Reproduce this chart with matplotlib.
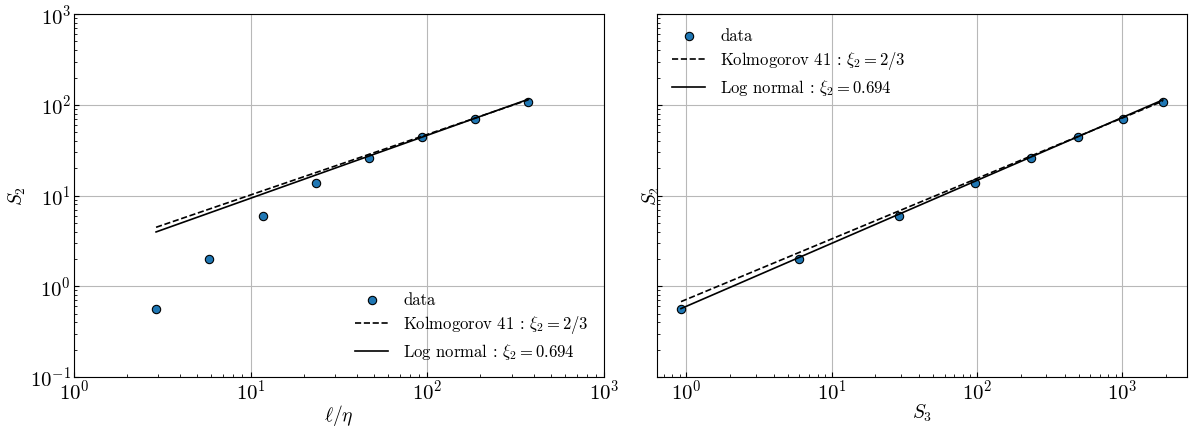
import matplotlib
matplotlib.use("Agg")
import matplotlib.pyplot as plt
import numpy as np

plt.rcParams['font.family'] = 'serif'
plt.rcParams['font.serif'] = ['cmr10']
plt.rcParams['mathtext.fontset'] = 'cm'
plt.rcParams['axes.formatter.use_mathtext'] = True
plt.rcParams['xtick.direction'] = 'in'
plt.rcParams['ytick.direction'] = 'in'

# structure functions
l_eta = [2.92, 5.84, 11.7, 23.4, 46.7, 93.4, 187, 374]
S2 = [0.568, 2.02, 5.97, 13.9, 26.0, 43.9, 70.5, 108.7]
S3 = [0.92, 6.01, 29.0, 96.4, 236, 497, 1002, 1898]

xi_k41 = 2 / 3
xi_ln = 0.694
# prefactors of the power law lines
c_k41_left = 2.19
c_ln_left = 1.89
c_k41_right = 0.717
c_ln_right = 0.602

x1 = np.array(l_eta)
x2 = np.array(S3)

fig, (ax1, ax2) = plt.subplots(1, 2, figsize=(11.91, 4.28), dpi=100, sharey=True)
fig.subplots_adjust(left=0.062, right=0.9966, bottom=0.119, top=0.967, wspace=0.1)

leg_kw = dict(frameon=False, fontsize=12, labelspacing=0.35, handlelength=2.0,
              handletextpad=0.9, borderaxespad=0.5)

ax1.loglog(l_eta, S2, 'o', color='#1f77b4', mec='k', mew=0.8, ms=6, label='data')
ax1.loglog(x1, c_k41_left * x1**xi_k41, 'k--', lw=1.2, label=r'Kolmogorov 41 : $\xi_2 = 2/3$')
ax1.loglog(x1, c_ln_left * x1**xi_ln, 'k-', lw=1.2, label=r'Log normal : $\xi_2 = 0.694$')
ax1.set_xlim(1, 1000)
ax1.set_ylim(0.1, 1000)
ax1.set_xlabel(r'$\ell/\eta$', fontsize=14, labelpad=-1)
ax1.set_ylabel(r'$S_2$', fontsize=14, labelpad=1)
ax1.grid(True, which='major', color='#b8b8b8', lw=0.8)
ax1.legend(loc='lower right', **leg_kw)

ax2.loglog(S3, S2, 'o', color='#1f77b4', mec='k', mew=0.8, ms=6, label='data')
ax2.loglog(x2, c_k41_right * x2**xi_k41, 'k--', lw=1.2, label=r'Kolmogorov 41 : $\xi_2 = 2/3$')
ax2.loglog(x2, c_ln_right * x2**xi_ln, 'k-', lw=1.2, label=r'Log normal : $\xi_2 = 0.694$')
ax2.set_xlabel(r'$S_3$', fontsize=14, labelpad=-1)
ax2.set_ylabel(r'$S_2$', fontsize=14, labelpad=-4)
ax2.grid(True, which='major', color='#b8b8b8', lw=0.8)
ax2.legend(loc='upper left', **leg_kw)
ax2.tick_params(labelleft=False)

for ax in (ax1, ax2):
    ax.tick_params(which='both', labelsize=15, pad=2)

fig.savefig('out.png', dpi=100)
